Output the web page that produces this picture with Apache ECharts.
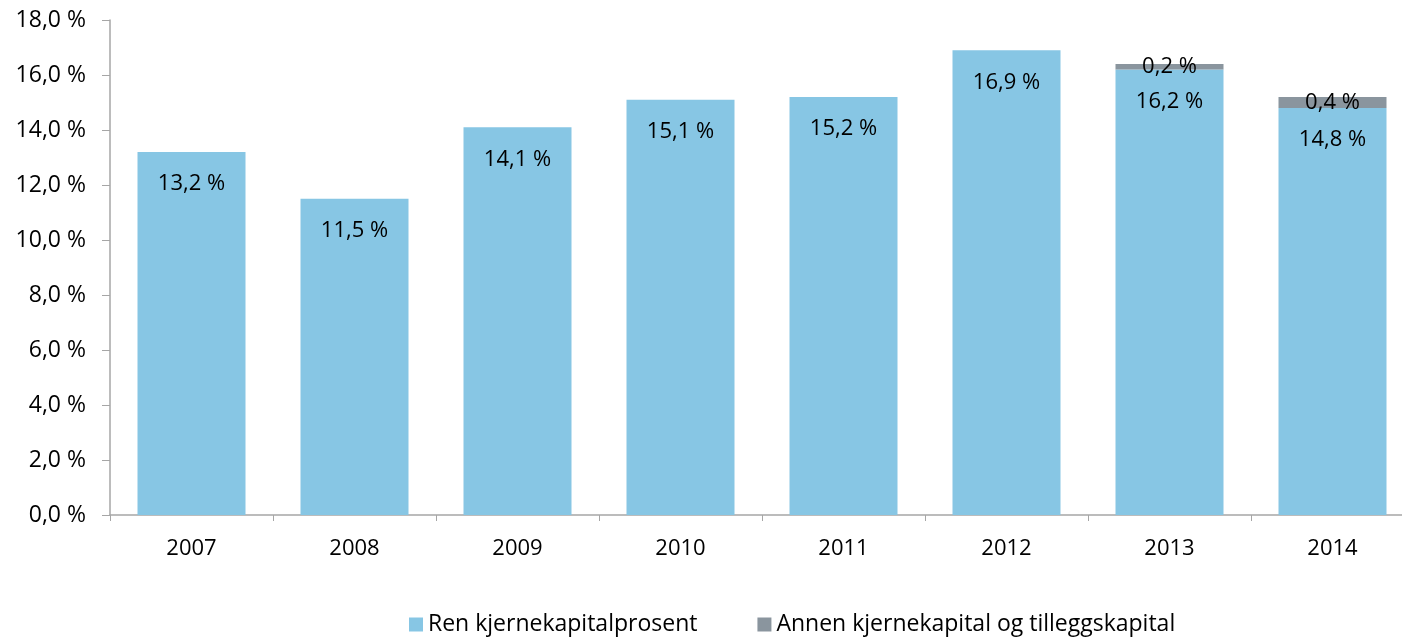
<!DOCTYPE html>
<html>
<head>
<meta charset="utf-8">
<script src="https://cdn.jsdelivr.net/npm/echarts@6/dist/echarts.min.js"></script>
<style>
  html, body { margin: 0; padding: 0; background: #fff; overflow: hidden; }
  #chart { width: 1414px; height: 641px; }
</style>
</head>
<body>
<div id="chart"></div>
<script>
var years = ['2007', '2008', '2009', '2010', '2011', '2012', '2013', '2014'];
var renKjerne = [13.2, 11.5, 14.1, 15.1, 15.2, 16.9, 16.2, 14.8];
var annenKapital = [null, null, null, null, null, null, 0.2, 0.4];
var seriesNames = ['Ren kjernekapitalprosent', 'Annen kjernekapital og tilleggskapital'];

var fontFamily = '"Open Sans", sans-serif';

function pct(v) {
    return v.toFixed(1).replace('.', ',') + ' %';
}

var myChart = echarts.init(document.getElementById('chart'));

myChart.setOption({
    animation: false,
    textStyle: { fontFamily: fontFamily },
    grid: {
        left: 110,
        top: 20,
        right: 0,
        height: 495
    },
    legend: {
        bottom: 0,
        left: 404,
        itemWidth: 14,
        itemHeight: 14,
        itemGap: 60,
        icon: 'rect',
        textStyle: { fontSize: 23, color: '#000', fontFamily: fontFamily },
        data: seriesNames
    },
    xAxis: {
        type: 'category',
        data: years,
        axisLine: { lineStyle: { color: '#a6a6a6', width: 1.5 } },
        axisTick: { show: true, length: 6, alignWithLabel: false, lineStyle: { color: '#a6a6a6' } },
        axisLabel: { fontSize: 22, color: '#000', margin: 23 }
    },
    yAxis: {
        type: 'value',
        min: 0,
        max: 18,
        interval: 2,
        splitLine: { show: false },
        axisLine: { show: true, lineStyle: { color: '#a6a6a6', width: 1.5 } },
        axisTick: { show: true, length: 8, lineStyle: { color: '#a6a6a6' } },
        axisLabel: {
            fontSize: 23,
            color: '#000',
            margin: 24,
            formatter: function (v) { return pct(v); }
        }
    },
    series: [
        {
            name: seriesNames[0],
            type: 'bar',
            stack: 'total',
            barWidth: 108,
            data: renKjerne,
            itemStyle: { color: '#87C6E4' },
            label: {
                show: true,
                position: 'insideTop',
                distance: 21,
                fontSize: 22,
                color: '#000',
                formatter: function (p) { return pct(p.value); }
            }
        },
        {
            name: seriesNames[1],
            type: 'bar',
            stack: 'total',
            barWidth: 108,
            data: annenKapital,
            itemStyle: { color: '#8A959E' },
            label: {
                show: true,
                position: 'inside',
                fontSize: 22,
                color: '#000',
                formatter: function (p) { return p.value == null ? '' : pct(p.value); }
            }
        }
    ]
});
</script>
</body>
</html>
